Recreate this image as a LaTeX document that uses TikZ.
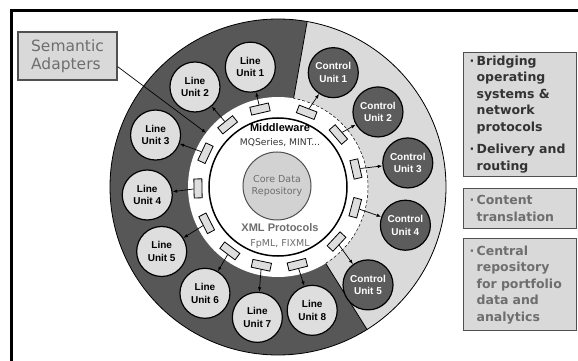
\documentclass[tikz,border=0pt]{standalone}
\usepackage{fontspec}
\setmainfont{Liberation Sans}
\newfontfamily\verdana{DejaVu Sans}
\usepackage{xcolor}
\usetikzlibrary{positioning, shapes}
\usetikzlibrary{arrows.meta}

\definecolor{ringdark}{HTML}{575757}
\definecolor{ringlight}{HTML}{DADADA}
\definecolor{unitfill}{HTML}{DEDEDE}
\definecolor{ctrlfill}{HTML}{5C5C5C}
\definecolor{corefill}{HTML}{D2D2D2}
\definecolor{boxfill}{HTML}{D9D9D9}
\definecolor{boxedge}{HTML}{505050}
\definecolor{softtext}{HTML}{6E6E6E}
\definecolor{hardtext}{HTML}{333333}

\newcommand{\bulletmark}{\makebox[7pt][l]{·}}
\newcommand{\indentmark}{\hspace*{7pt}}

\begin{document}
\begin{tikzpicture}[x=1pt, y=1pt]
            \tikzset{lineunit/.style = {circle, draw, line width=1.2pt, fill=unitfill, minimum size=50pt, inner sep=0pt, align=center, font=\bfseries\fontsize{10}{12.5}\selectfont}}
            \tikzset{ctrlunit/.style = {lineunit, fill=ctrlfill, text=white}}
            \tikzset{adapter/.style = {draw, line width=0.8pt, fill=unitfill, minimum width=19pt, minimum height=8pt, inner sep=0pt}}
            \tikzset{smalledge/.style = {-{Latex[length=1.6mm]}, line width=0.7pt}}
            \tikzset{infobox/.style = {draw=boxedge, line width=1.3pt, fill=boxfill, anchor=north west, text width=101pt, inner xsep=6pt, align=left, font=\verdana\bfseries\fontsize{12.5}{16.5}\selectfont}}

            \useasboundingbox (-278,-174) rectangle (300,187);

            % frame
            \draw[line width=2.5pt] (-266.7,-174) |- (300,176.7);

            % rings
            \fill[ringdark] (0,0) circle (168);
            \fill[ringlight] (0,0) -- (-58:168) arc (-58:80:168) -- cycle;
            \draw[line width=0.8pt] (0,0) circle (168);
            \draw[line width=0.8pt] (80:90) -- (80:168);
            \draw[line width=0.8pt] (-58:90) -- (-58:168);
            \fill[white] (0,0) circle (90);
            \draw[densely dashed, line width=0.5pt] (-58:90) arc (-58:80:90);
            \draw[line width=1.5pt] (0,0) circle (69);

            \node[circle, draw=boxedge, line width=1pt, fill=corefill, minimum size=68pt, align=center, text=softtext, font=\verdana\fontsize{9.5}{12}\selectfont] (core) at (-1,1) {Core Data\\Repository};

            \node[font=\bfseries\fontsize{11}{13}\selectfont] (middleware) at (2,59) {Middleware};
            \node[font=\verdana\fontsize{9.2}{11}\selectfont, text=hardtext] (mqseries) at (2,44) {MQSeries, MINT...};
            \node[font=\bfseries\fontsize{11}{13}\selectfont, text=softtext] (xmlproto) at (2,-41) {XML Protocols};
            \node[font=\verdana\fontsize{9.5}{11}\selectfont, text=softtext] (fpml) at (2,-57) {FpML, FIXML};

            % line units
            \node[lineunit] (line1) at (103:123) {Line\\Unit 1};
            \node[lineunit] (line2) at (129.7:130) {Line\\Unit 2};
            \node[lineunit] (line3) at (157:133) {Line\\Unit 3};
            \node[lineunit] (line4) at (183.5:131) {Line\\Unit 4};
            \node[lineunit] (line5) at (209:133) {Line\\Unit 5};
            \node[lineunit] (line6) at (235.5:129) {Line\\Unit 6};
            \node[lineunit] (line7) at (261:132) {Line\\Unit 7};
            \node[lineunit] (line8) at (285.5:128) {Line\\Unit 8};

            % control units
            \node[ctrlunit] (ctrl1) at (64.2:127) {Control\\Unit 1};
            \node[ctrlunit] (ctrl2) at (36.9:125) {Control\\Unit 2};
            \node[ctrlunit] (ctrl3) at (10.5:132) {Control\\Unit 3};
            \node[ctrlunit] (ctrl4) at (-16.7:133) {Control\\Unit 4};
            \node[ctrlunit] (ctrl5) at (-47.4:133) {Control\\Unit 5};

            % adapters
            \node[adapter, rotate=13] (adl1) at (103:80) {};
            \node[adapter, rotate=39] (adl2) at (129:80) {};
            \node[adapter, rotate=65] (adl3) at (155:80) {};
            \node[adapter, rotate=91] (adl4) at (181:80) {};
            \node[adapter, rotate=117] (adl5) at (207:80) {};
            \node[adapter, rotate=143] (adl6) at (233:80) {};
            \node[adapter, rotate=168] (adl7) at (258:80) {};
            \node[adapter, rotate=194] (adl8) at (284:80) {};
            \node[adapter, rotate=-21] (adc1) at (69:80) {};
            \node[adapter, rotate=-49] (adc2) at (41:80) {};
            \node[adapter, rotate=-77] (adc3) at (13:80) {};
            \node[adapter, rotate=-105] (adc4) at (-15:80) {};
            \node[adapter, rotate=-133] (adc5) at (-43:80) {};

            % adapter links
            \draw[smalledge] (adl1) -- (line1);
            \draw[smalledge] (adl2) -- (line2);
            \draw[smalledge] (adl3) -- (line3);
            \draw[smalledge] (adl4) -- (line4);
            \draw[smalledge] (adl5) -- (line5);
            \draw[smalledge] (adl6) -- (line6);
            \draw[smalledge] (adl7) -- (line7);
            \draw[smalledge] (adl8) -- (line8);
            \draw[smalledge] (adc1) -- (ctrl1);
            \draw[smalledge] (adc2) -- (ctrl2);
            \draw[smalledge] (adc3) -- (ctrl3);
            \draw[smalledge] (adc4) -- (ctrl4);
            \draw[smalledge] (adc5) -- (ctrl5);

            % callout
            \node[draw=boxedge, line width=1.3pt, fill=boxfill, minimum width=99pt, minimum height=48pt, align=left, text=softtext, font=\verdana\fontsize{15.5}{18.4}\selectfont] (semantic) at (-210.5,131) {Semantic\\Adapters};
            \coordinate (semtip) at (143:90);
            \draw[smalledge] (semantic.-12) -- (semtip);

            % info boxes
            \node[infobox, text=hardtext, minimum height=118pt] (bridging) at (185,135) {\bulletmark Bridging\\ \indentmark operating\\ \indentmark systems \&\\ \indentmark network\\ \indentmark protocols\\[6pt] \bulletmark Delivery and\\ \indentmark routing};
            \node[infobox, text=softtext, minimum height=40pt] (content) at (185,-1) {\bulletmark Content\\ \indentmark translation};
            \node[infobox, text=softtext, minimum height=92pt] (central) at (185,-51) {\bulletmark Central\\ \indentmark repository\\ \indentmark for portfolio\\ \indentmark data and\\ \indentmark analytics};

        \end{tikzpicture}
\end{document}
